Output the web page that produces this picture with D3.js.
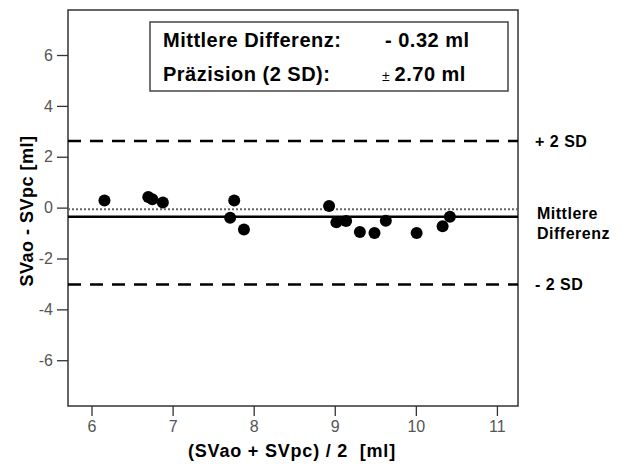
<!DOCTYPE html>
<html lang="de">
<head>
<meta charset="UTF-8">
<title>Bland-Altman SVao vs SVpc</title>
<script src="https://d3js.org/d3.v7.min.js"></script>
<style>
    body { margin: 0; background: #fff; }
    svg { display: block; font-family: Arial, "Liberation Sans", Helvetica, sans-serif; }
    .tick text { font-size: 16px; fill: #555; }
    .bold { font-weight: bold; fill: #000; }
</style>
</head>
<body>
<svg width="625" height="464"></svg>
<script>
    // mean of both methods (x) and difference (y)
    const meanVals = [6.16, 6.70, 6.75, 6.88, 7.71, 7.76, 7.88, 8.93, 9.02, 9.14, 9.31, 9.49, 9.63, 10.01, 10.33, 10.42];
    const diffVals = [0.28, 0.42, 0.33, 0.20, -0.40, 0.28, -0.86, 0.06, -0.58, -0.53, -0.96, -1.00, -0.52, -1.00, -0.73, -0.36];

    const xTicks = [6, 7, 8, 9, 10, 11];
    const yTicks = [-6, -4, -2, 0, 2, 4, 6];

    // reference lines
    const zeroLine = -0.06;
    const meanLine = -0.36;
    const upperLine = 2.62;
    const lowerLine = -3.02;

    const boxLabels = ["Mittlere Differenz:", "Präzision (2 SD):"];
    const boxValues = ["- 0.32 ml", "2.70 ml"];

    let svg = d3.select("svg");

    const pLeft = 68, pRight = 518, pTop = 10, pBottom = 406;

    let x = d3.scaleLinear().domain([5.71, 11.26]).range([pLeft, pRight]);
    let y = d3.scaleLinear().domain([-7.8, 7.77]).range([pBottom, pTop]);

    // axes (plain hyphen for negatives, like the original)
    svg.append("g")
        .attr("transform", "translate(0," + pBottom + ")")
        .call(d3.axisBottom(x).tickValues(xTicks).tickSize(10).tickPadding(5).tickFormat(d => String(d)))
        .call(g => g.select(".domain").remove())
        .call(g => g.selectAll("line").attr("stroke", "#333").attr("stroke-width", 1.3));

    svg.append("g")
        .attr("transform", "translate(" + pLeft + ",0)")
        .call(d3.axisLeft(y).tickValues(yTicks).tickSize(11).tickPadding(4).tickFormat(d => String(d)))
        .call(g => g.select(".domain").remove())
        .call(g => g.selectAll("line").attr("stroke", "#333").attr("stroke-width", 1.3));

    // frame
    svg.append("rect")
        .attr("x", pLeft).attr("y", pTop)
        .attr("width", pRight - pLeft).attr("height", pBottom - pTop)
        .attr("fill", "none").attr("stroke", "#333").attr("stroke-width", 1.5);

    // reference lines
    function hline(v, width, dash, color) {
        svg.append("line")
            .attr("x1", pLeft).attr("x2", pRight)
            .attr("y1", y(v)).attr("y2", y(v))
            .attr("stroke", color).attr("stroke-width", width)
            .attr("stroke-dasharray", dash);
    }
    hline(zeroLine, 2, "2,2", "#666");
    hline(meanLine, 2.6, null, "#000");
    hline(upperLine, 2.6, "13,9", "#000");
    hline(lowerLine, 2.6, "13,9", "#000");

    // points
    svg.append("g")
        .selectAll("circle")
        .data(meanVals)
        .enter()
        .append("circle")
        .attr("cx", d => x(d))
        .attr("cy", (d, i) => y(diffVals[i]))
        .attr("r", 6)
        .attr("fill", "#000");

    // right side labels
    function sideLabel(txt, px, py) {
        svg.append("text").attr("class", "bold")
            .attr("x", px).attr("y", py)
            .attr("font-size", 16).attr("letter-spacing", 0.5)
            .text(txt);
    }
    sideLabel("+ 2 SD", 535, y(upperLine) + 6);
    sideLabel("- 2 SD", 535, y(lowerLine) + 6);
    sideLabel("Mittlere", 537, 219);
    sideLabel("Differenz", 537, 239);

    // info box
    svg.append("rect")
        .attr("x", 150).attr("y", 22).attr("width", 358).attr("height", 69)
        .attr("fill", "#fff").attr("stroke", "#444").attr("stroke-width", 1.5);

    boxLabels.forEach(function (t, i) {
        svg.append("text").attr("class", "bold")
            .attr("x", 163).attr("y", 47 + i * 34)
            .attr("font-size", 20).attr("letter-spacing", 0.5).text(t);
    });
    svg.append("text").attr("class", "bold")
        .attr("x", 385).attr("y", 47)
        .attr("font-size", 20).attr("letter-spacing", 0.5).text(boxValues[0]);
    let pm = svg.append("text")
        .attr("x", 382).attr("y", 81)
        .attr("font-size", 20).attr("letter-spacing", 0.5);
    pm.append("tspan").attr("font-size", 14).attr("fill", "#000").text("± ");
    pm.append("tspan").attr("font-weight", "bold").attr("fill", "#000").text(boxValues[1]);

    // axis titles
    svg.append("text").attr("class", "bold")
        .attr("x", 292).attr("y", 457)
        .attr("text-anchor", "middle")
        .attr("font-size", 18).attr("letter-spacing", 0.8)
        .attr("xml:space", "preserve")
        .text("(SVao + SVpc) / 2  [ml]");

    svg.append("text").attr("class", "bold")
        .attr("transform", "translate(33,211) rotate(-90)")
        .attr("text-anchor", "middle")
        .attr("font-size", 18).attr("letter-spacing", 0.5)
        .text("SVao - SVpc [ml]");
</script>
</body>
</html>
